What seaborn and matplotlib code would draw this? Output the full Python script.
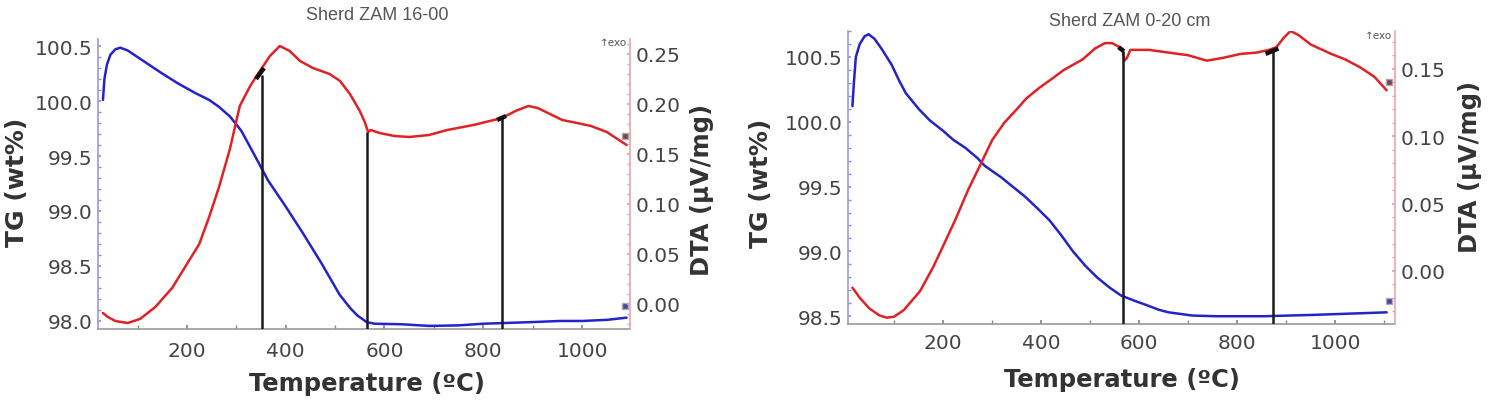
import matplotlib
matplotlib.use("Agg")
import matplotlib.pyplot as plt
import seaborn as sns
from matplotlib.ticker import MultipleLocator

# ---------------- data ----------------
# Panel A : Sherd ZAM 16-00
a_tg_T = [30, 33, 38, 45, 55, 65, 80, 100, 120, 150, 182, 218, 245, 264, 287, 310, 327,
          345, 364, 382, 400, 436, 473, 509, 530, 545, 564, 580, 636, 690, 750, 800, 900,
          955, 1000, 1050, 1090]
a_tg = [100.01, 100.20, 100.33, 100.42, 100.47, 100.485, 100.46, 100.40, 100.34, 100.25,
        100.16, 100.07, 100.01, 99.95, 99.86, 99.73, 99.59, 99.44, 99.28, 99.16, 99.04,
        98.79, 98.52, 98.24, 98.12, 98.05, 97.99, 97.975, 97.97, 97.955, 97.96, 97.975,
        97.99, 98.00, 98.00, 98.01, 98.03]
a_dta_T = [30, 40, 55, 80, 105, 136, 170, 200, 225, 245, 265, 287, 307, 328, 345, 368, 388,
           408, 429, 455, 489, 510, 530, 550, 560, 564, 567, 572, 590, 620, 650, 690, 727,
           780, 838, 865, 891, 910, 935, 960, 990, 1018, 1050, 1090]
a_dta = [-0.009, -0.013, -0.017, -0.019, -0.015, -0.003, 0.016, 0.040, 0.060, 0.087, 0.117,
         0.155, 0.198, 0.218, 0.231, 0.248, 0.258, 0.253, 0.243, 0.236, 0.230, 0.223, 0.210,
         0.193, 0.182, 0.176, 0.172, 0.174, 0.171, 0.168, 0.167, 0.169, 0.174, 0.179, 0.186,
         0.193, 0.198, 0.196, 0.190, 0.184, 0.181, 0.178, 0.172, 0.159]
a_events_T = [352, 565, 838]
a_events_top = [0.229, 0.172, 0.186]
a_seg_T = [[340, 356], [828, 846]]
a_seg_v = [[0.225, 0.236], [0.184, 0.188]]
a_end_T = 1087
a_end_dta = 0.168
a_end_tg = 98.14

# Panel B : Sherd ZAM 0-20 cm
b_tg_T = [15, 18, 22, 30, 40, 48, 60, 75, 95, 110, 124, 150, 173, 200, 221, 245, 270, 285,
          319, 345, 368, 393, 417, 440, 465, 490, 514, 540, 563, 590, 612, 640, 660, 709,
          758, 856, 953, 1030, 1105]
b_tg = [100.12, 100.30, 100.50, 100.60, 100.66, 100.675, 100.64, 100.56, 100.44, 100.32,
        100.22, 100.10, 100.01, 99.93, 99.86, 99.80, 99.72, 99.66, 99.57, 99.49, 99.42,
        99.33, 99.24, 99.13, 99.00, 98.89, 98.80, 98.72, 98.66, 98.62, 98.59, 98.55, 98.53,
        98.505, 98.50, 98.50, 98.51, 98.52, 98.53]
b_dta_T = [15, 30, 50, 70, 85, 100, 120, 153, 180, 202, 225, 251, 275, 300, 325, 348, 370,
           397, 420, 446, 485, 510, 530, 545, 560, 567, 570, 575, 582, 620, 660, 700, 738,
           770, 807, 840, 865, 880, 895, 909, 925, 950, 992, 1020, 1051, 1080, 1105]
b_dta = [-0.0124, -0.020, -0.028, -0.033, -0.0347, -0.034, -0.029, -0.015, 0.003, 0.020,
         0.038, 0.060, 0.078, 0.097, 0.110, 0.119, 0.128, 0.136, 0.142, 0.149, 0.157, 0.165,
         0.169, 0.169, 0.166, 0.163, 0.156, 0.158, 0.164, 0.164, 0.162, 0.160, 0.156, 0.158,
         0.161, 0.162, 0.164, 0.166, 0.173, 0.178, 0.175, 0.168, 0.161, 0.157, 0.151, 0.144,
         0.134]
b_events_T = [567, 873]
b_events_top = [0.163, 0.163]
b_seg_T = [[558, 569], [858, 884]]
b_seg_v = [[0.166, 0.163], [0.161, 0.165]]
b_end_T = 1110
b_end_dta = 0.140
b_end_tg = 98.62

# ---------------- style ----------------
sns.set_theme(style="white")
plt.rcParams["font.family"] = ["DejaVu Sans"]

W, H = 1492, 406
fig = plt.figure(figsize=(W / 100, H / 100), dpi=100)

BLUE = "#2323cc"
RED = "#e02226"
TICKC = "#444444"
LABC = "#333333"


def px_rect(l, r, t, b):
    return [l / W, 1 - b / H, (r - l) / W, (b - t) / H]


def panel(rect, tgT, tg, dT, dv, evT, evTop, segT, segV, endT, endD, endTG,
          xlim, tglim, dlim, tgticks, dticks, xpad, title, txy,
          tg_lab_xy, d_lab_xy, x_lab_xy, exo_y):
    ax = fig.add_axes(rect)
    ax2 = ax.twinx()

    sns.lineplot(x=tgT, y=tg, ax=ax, color=BLUE, lw=1.8, sort=False, estimator=None)
    sns.lineplot(x=dT, y=dv, ax=ax2, color=RED, lw=1.8, sort=False, estimator=None)

    ax.set_xlim(*xlim)
    ax.set_ylim(*tglim)
    ax2.set_ylim(*dlim)

    # event lines
    ax2.vlines(evT, dlim[0], evTop, color="#1a1a1a", lw=1.8, zorder=5)
    for sT, sV in zip(segT, segV):
        ax2.plot(sT, sV, color="#111111", lw=3.2, solid_capstyle="butt", zorder=6)

    # end markers
    ax2.plot([endT], [endD], marker="s", ms=5, mfc="#6e4a58", mec="#b8a0a8", mew=1, zorder=7)
    ax.plot([endT], [endTG], marker="s", ms=5, mfc="#4a4a88", mec="#a8a8d0", mew=1, zorder=7)

    # ticks
    ax.set_xticks([200, 400, 600, 800, 1000])
    ax.xaxis.set_minor_locator(MultipleLocator(100))
    ax.set_yticks(tgticks)
    ax.yaxis.set_minor_locator(MultipleLocator(0.1))
    ax2.set_yticks(dticks)
    ax2.yaxis.set_minor_locator(MultipleLocator(0.01))
    ax.set_yticklabels([f"{v:.1f}" for v in tgticks])
    ax2.set_yticklabels([f"{v:.2f}" for v in dticks])

    ax.tick_params(axis="x", which="both", direction="in", length=3, color="#888888",
                   labelsize=14.5, labelcolor=TICKC, pad=xpad, bottom=True)
    ax.tick_params(axis="y", which="both", direction="in", length=2.5, color="#8f8fd6",
                   labelsize=14.5, labelcolor=TICKC, pad=4, left=True)
    ax2.tick_params(axis="y", which="both", direction="in", length=2.5, color="#e2a4a8",
                    labelsize=14.5, labelcolor=TICKC, pad=4, right=True)

    for s in ("top",):
        ax.spines[s].set_visible(False)
        ax2.spines[s].set_visible(False)
    ax.spines["right"].set_visible(False)
    ax2.spines["left"].set_visible(False)
    ax2.spines["bottom"].set_visible(False)
    ax.spines["left"].set_color("#9a9ae0")
    ax.spines["left"].set_linewidth(1.2)
    ax2.spines["right"].set_color("#e6a8ac")
    ax2.spines["right"].set_linewidth(1.2)
    ax.spines["bottom"].set_color("#9a9a9a")
    ax.spines["bottom"].set_linewidth(1.2)

    # labels
    ax.set_xlabel("Temperature (ºC)", fontsize=17.5, fontweight="bold", color=LABC)
    ax.xaxis.set_label_coords(*x_lab_xy)
    ax.xaxis.label.set_verticalalignment("center")
    ax.set_ylabel("TG (wt%)", fontsize=18, fontweight="bold", color=LABC)
    ax.yaxis.set_label_coords(*tg_lab_xy)
    ax.yaxis.label.set_verticalalignment("center")
    ax2.set_ylabel("DTA (µV/mg)", fontsize=17.5, fontweight="bold", color=LABC)
    ax2.yaxis.set_label_coords(*d_lab_xy)
    ax2.yaxis.label.set_verticalalignment("center")

    ax2.text(0.995, exo_y, "↑exo", transform=ax2.transAxes, ha="right", va="center",
             fontsize=7.5, color="#555555")

    fig.text(txy[0] / W, 1 - txy[1] / H, title, ha="center", va="center",
             fontsize=13, color="#555555", family=["Liberation Sans", "DejaVu Sans"])
    return ax, ax2


panel(px_rect(98, 630, 40, 330), a_tg_T, a_tg, a_dta_T, a_dta, a_events_T, a_events_top,
      a_seg_T, a_seg_v, a_end_T, a_end_dta, a_end_tg,
      xlim=(20, 1097), tglim=(97.927, 100.564), dlim=(-0.025, 0.265),
      tgticks=[98.0, 98.5, 99.0, 99.5, 100.0, 100.5],
      dticks=[0.00, 0.05, 0.10, 0.15, 0.20, 0.25], xpad=9,
      title="Sherd ZAM 16-00", txy=(377, 15),
      tg_lab_xy=(-0.152, 0.51), d_lab_xy=(1.135, 0.483), x_lab_xy=(0.506, -0.186),
      exo_y=0.99)

panel(px_rect(848, 1395, 32, 325), b_tg_T, b_tg, b_dta_T, b_dta, b_events_T, b_events_top,
      b_seg_T, b_seg_v, b_end_T, b_end_dta, b_end_tg,
      xlim=(6, 1122), tglim=(98.44, 100.70), dlim=(-0.0394, 0.178),
      tgticks=[98.5, 99.0, 99.5, 100.0, 100.5],
      dticks=[0.00, 0.05, 0.10, 0.15], xpad=6.5,
      title="Sherd ZAM 0-20 cm", txy=(1130, 22),
      tg_lab_xy=(-0.159, 0.485), d_lab_xy=(1.137, 0.539), x_lab_xy=(0.501, -0.188),
      exo_y=0.985)

fig.savefig("out.png", dpi=100, facecolor="white")
